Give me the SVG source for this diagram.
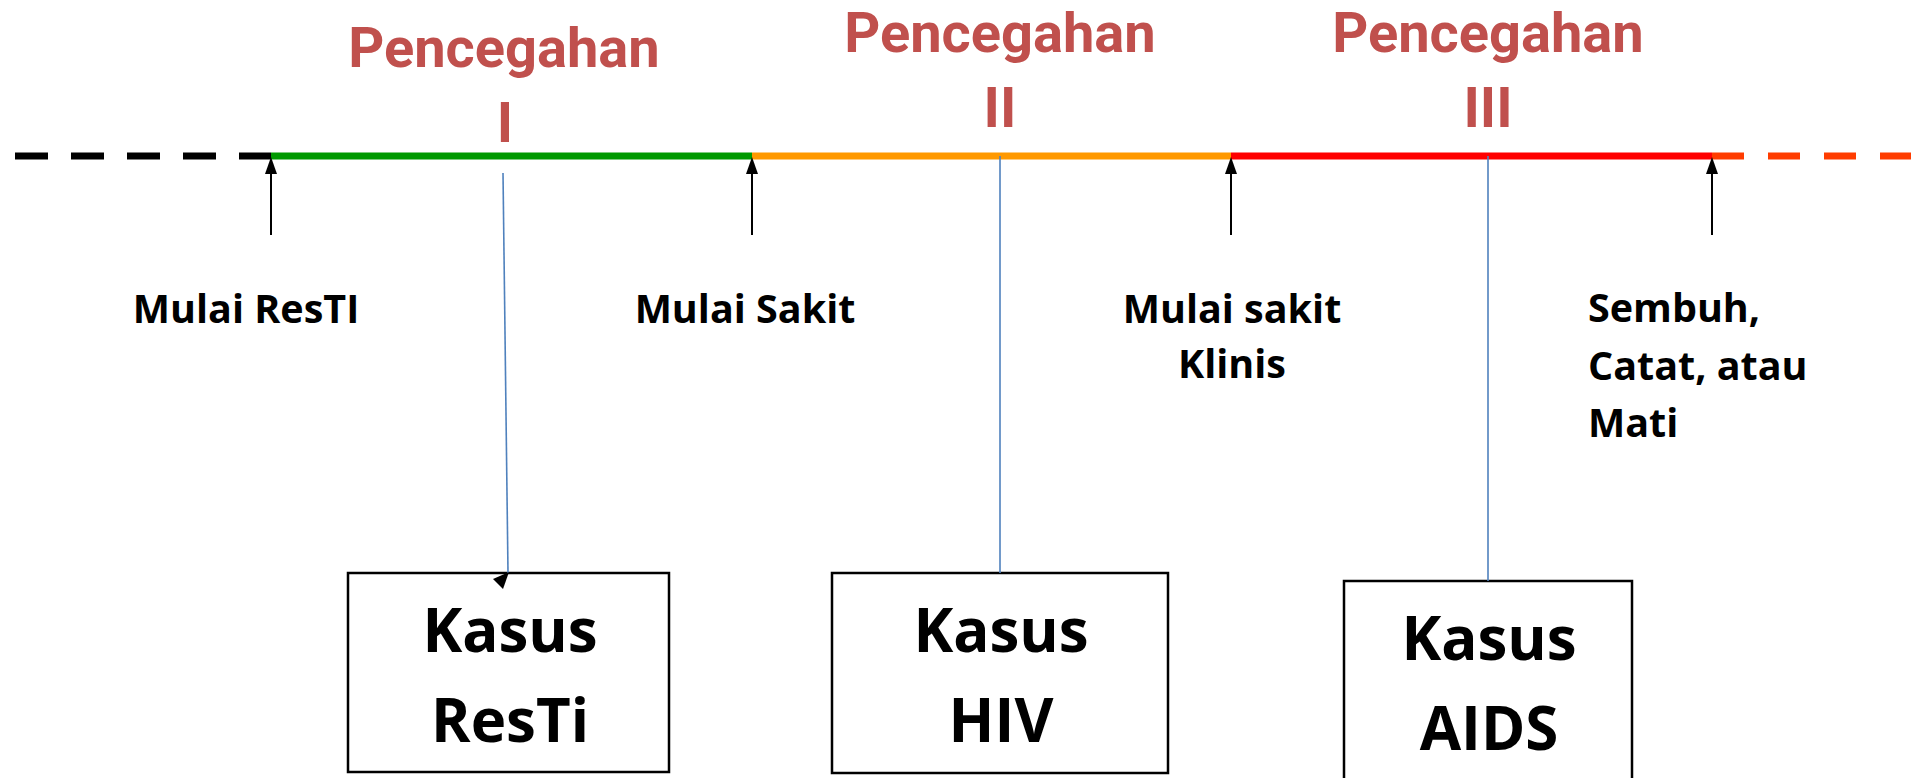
<svg xmlns="http://www.w3.org/2000/svg" width="1911" height="778" viewBox="0 0 1911 778">
<style>
.title{font-family:Roboto,"Liberation Sans",sans-serif;font-weight:bold;font-size:56px;fill:#C0504D;text-anchor:middle}
.lab{font-family:"Open Sans","Noto Sans",sans-serif;font-weight:bold;font-size:39.5px;fill:#000}
.box{fill:#fff;stroke:#000;stroke-width:2.5}
.btxt{font-family:"Open Sans","Noto Sans",sans-serif;font-weight:bold;font-size:60px;fill:#000;text-anchor:middle}
.tl{stroke-width:7;fill:none}
.arr{stroke:#000;stroke-width:2}
.blue{stroke:#4F81BD;stroke-width:1.6;fill:none}
</style>
<rect width="1911" height="778" fill="#fff"/>
<g id="timeline">
<line class="tl" x1="15" y1="156" x2="271" y2="156" stroke="#000" stroke-dasharray="33 23"/>
<line class="tl" x1="271" y1="156" x2="752" y2="156" stroke="#009900"/>
<line class="tl" x1="752" y1="156" x2="1231" y2="156" stroke="#FF9900"/>
<line class="tl" x1="1231" y1="156" x2="1712" y2="156" stroke="#FF0000"/>
<line class="tl" x1="1712" y1="156" x2="1911" y2="156" stroke="#FF3C00" stroke-dasharray="32 24"/>
</g>
<g id="title1"><text class="title" x="504" y="67">Pencegahan</text><text class="title" x="505" y="142">I</text></g>
<g id="title2"><text class="title" x="1000" y="52">Pencegahan</text><text class="title" x="1000" y="127">II</text></g>
<g id="title3"><text class="title" x="1488" y="52">Pencegahan</text><text class="title" x="1488" y="127">III</text></g>
<g id="label1"><text class="lab" x="246" y="323" text-anchor="middle">Mulai ResTI</text></g>
<g id="label2"><text class="lab" x="745" y="323" text-anchor="middle">Mulai Sakit</text></g>
<g id="label3"><text class="lab" x="1232" y="323" text-anchor="middle">Mulai sakit</text><text class="lab" x="1232" y="378" text-anchor="middle">Klinis</text></g>
<g id="label4"><text class="lab" x="1588" y="322">Sembuh,</text><text class="lab" x="1588" y="380">Catat, atau</text><text class="lab" x="1588" y="437">Mati</text></g>
<g id="box1"><rect class="box" x="348" y="573" width="321" height="199"/><text class="btxt" x="510" y="652">Kasus</text><text class="btxt" x="510" y="742">ResTi</text></g>
<g id="box2"><rect class="box" x="832" y="573" width="336" height="200"/><text class="btxt" x="1001" y="652">Kasus</text><text class="btxt" x="1001" y="742">HIV</text></g>
<g id="box3"><rect class="box" x="1344" y="581" width="288" height="210"/><text class="btxt" x="1489" y="660">Kasus</text><text class="btxt" x="1489" y="750">AIDS</text></g>
<g id="connectors">
<line class="arr" x1="271" y1="235" x2="271" y2="168"/><polygon points="271,157 265,174 277,174"/>
<line class="arr" x1="752" y1="235" x2="752" y2="168"/><polygon points="752,157 746,174 758,174"/>
<line class="arr" x1="1231" y1="235" x2="1231" y2="168"/><polygon points="1231,157 1225,174 1237,174"/>
<line class="arr" x1="1712" y1="235" x2="1712" y2="168"/><polygon points="1712,157 1706,174 1718,174"/>
<line class="blue" x1="503" y1="173" x2="508" y2="573"/>
<polygon points="493,579 509,572 503,589" fill="#000"/>
<line class="blue" x1="1000" y1="156" x2="1000" y2="573"/>
<line class="blue" x1="1488" y1="156" x2="1488" y2="581"/>
</g>
</svg>
